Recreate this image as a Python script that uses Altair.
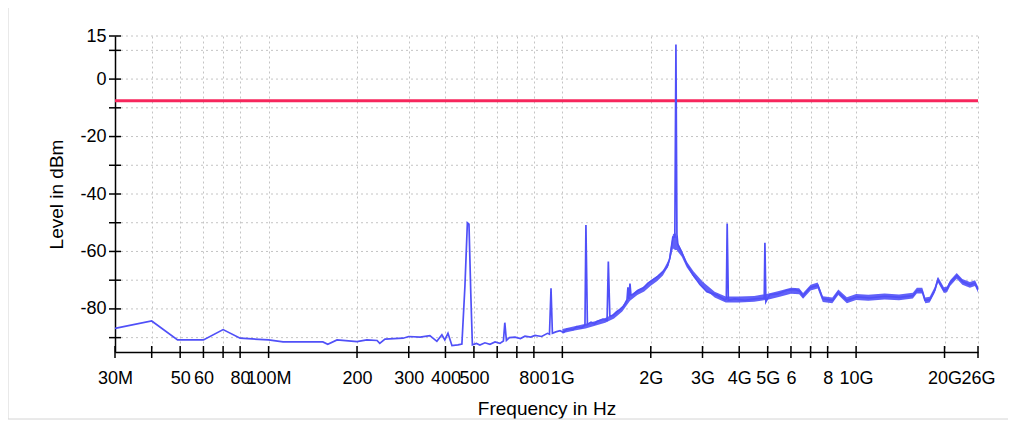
import altair as alt
import pandas as pd

# Spectrum trace (frequency in MHz, level in dBm)
freq_mhz = [30, 40, 49, 60, 70, 80, 100, 112, 153, 159, 171, 200, 216, 234, 239, 249,
            287, 300, 328, 354, 374, 389, 398, 408, 421, 441, 455, 466, 475, 481, 488,
            494, 510, 524, 545, 567, 590, 613, 630, 637, 645, 660, 690, 720, 746, 780,
            807, 850, 890, 904, 915, 925, 950, 982, 1010, 1037, 1087, 1120, 1160, 1194,
            1203, 1217, 1252, 1290, 1311, 1374, 1420, 1434, 1451, 1487, 1530, 1571, 1610,
            1633, 1660, 1672, 1685, 1699, 1712, 1738, 1809, 1881, 1956, 2034, 2115, 2200,
            2268, 2321, 2377, 2415, 2436, 2455, 2473, 2514, 2553, 2655, 2780, 2940, 3105,
            3358, 3575, 3616, 3640, 3674, 3865, 4181, 4522, 4817, 4867, 4893, 4931, 5083,
            5418, 5808, 6190, 6432, 6591, 6960, 7413, 7707, 8337, 8670, 9300, 10062,
            11141, 12535, 14097, 15600, 16107, 16755, 17145, 17830, 18540, 18978, 19896,
            20370, 20850, 22035, 23073, 24384, 25359, 26000]
level_dbm = [-86.8, -84.2, -90.8, -90.8, -87.2, -90.2, -90.8, -91.5, -91.5, -92.3, -90.8,
             -91.4, -90.8, -91.0, -92.0, -90.5, -90.2, -89.6, -89.8, -89.3, -91.3, -89.0,
             -90.8, -88.5, -92.8, -92.5, -92.2, -72.0, -50.0, -50.5, -75.0, -92.5, -92.0,
             -92.6, -91.8, -92.3, -91.5, -92.0, -91.2, -84.8, -91.0, -90.0, -89.8, -90.3,
             -89.5, -89.8, -89.2, -89.6, -88.5, -88.8, -72.8, -88.5, -88.0, -87.6, -88.2,
             -87.0, -87.2, -86.2, -86.6, -85.6, -50.8, -85.4, -84.6, -85.2, -84.4, -83.6,
             -84.0, -63.5, -82.6, -82.2, -81.0, -80.2, -79.2, -78.2, -76.8, -72.5, -76.5,
             -71.2, -75.2, -75.0, -73.6, -72.8, -71.0, -69.8, -68.6, -67.0, -65.5, -62.5,
             -55.0, -55.0, 12.0, -54.0, -57.5, -59.0, -60.5, -64.5, -68.0, -71.5, -74.0,
             -75.2, -76.8, -76.5, -50.3, -77.0, -76.5, -77.0, -76.5, -76.3, -76.2, -57.0,
             -77.5, -75.0, -74.8, -73.5, -73.2, -73.8, -75.5, -72.6, -71.8, -76.5, -77.0,
             -74.2, -77.0, -75.8, -76.2, -75.6, -76.0, -75.4, -73.6, -73.6, -77.0, -76.8,
             -73.5, -69.8, -73.5, -73.2, -71.0, -68.4, -70.6, -71.6, -71.0, -73.3]

# Noise envelope of the trace (MHz, low / high dBm)
band_mhz = [1000, 1100, 1200, 1300, 1400, 1500, 1600, 1700, 1800, 1900, 2000, 2100, 2200,
            2300, 2380, 2420, 2450, 2480, 2550, 2650, 2800, 3000, 3300, 3600, 4000, 4500,
            5000, 5500, 6000, 6400, 6600, 7000, 7400, 7700, 8300, 8700, 9300, 10000, 11000,
            12500, 14000, 15600, 16100, 16800, 17200, 17800, 18500, 19000, 19900, 20400,
            20900, 22000, 23000, 24400, 25400, 26000]
band_lo = [-88.5, -87.5, -86.8, -85.8, -84.8, -83.3, -80.9, -77.2, -75.2, -73.9, -71.9,
           -70.4, -68.4, -65.0, -59.0, -59.5, -59.5, -60.3, -61.8, -65.5, -69.0, -72.5,
           -76.0, -77.8, -77.8, -77.5, -76.8, -75.8, -74.7, -74.9, -76.5, -73.6, -72.9,
           -77.6, -78.0, -75.2, -78.0, -76.9, -77.2, -76.7, -77.0, -76.4, -74.6, -74.6,
           -78.0, -77.8, -74.5, -70.8, -74.5, -74.2, -72.0, -69.5, -71.6, -72.6, -72.0, -74.3]
band_hi = [-87.0, -86.0, -85.2, -84.2, -83.2, -81.7, -79.1, -75.3, -73.3, -72.1, -70.1,
           -68.6, -66.6, -63.0, -54.0, -53.5, -54.5, -57.2, -59.7, -63.5, -67.0, -70.5,
           -74.0, -75.7, -75.7, -75.5, -74.7, -73.7, -72.6, -72.8, -74.5, -71.6, -70.8,
           -75.6, -76.0, -73.2, -75.9, -74.8, -75.1, -74.6, -75.0, -74.4, -72.6, -72.6,
           -76.0, -75.8, -72.5, -68.8, -72.5, -72.2, -70.0, -67.5, -69.6, -70.6, -70.0, -72.2]

limit_dbm = [-7.5]

x_ticks_mhz = [30, 40, 50, 60, 70, 80, 100, 200, 300, 400, 500, 600, 700, 800, 1000,
               2000, 3000, 4000, 5000, 6000, 7000, 8000, 10000, 20000, 26000]
x_tick_labels = ["30M", "", "50", "60", "", "80", "100M", "200", "300", "400", "500", "",
                 "", "800", "1G", "2G", "3G", "4G", "5G", "6", "", "8", "10G", "20G", "26G"]
y_ticks = [15, 10, 0, -10, -20, -30, -40, -50, -60, -70, -80, -90]
y_labelled = [15, 0, -20, -40, -60, -80]

W, H = 863, 316
FONT = "Liberation Sans"
BLUE = "#5050f8"
GRID = "#c4c4c4"

trace = pd.DataFrame({"f": freq_mhz, "lvl": level_dbm})
band = pd.DataFrame({"f": band_mhz, "lo": band_lo, "hi": band_hi})
limit = pd.DataFrame({"lvl": limit_dbm})
xt = pd.DataFrame({"f": x_ticks_mhz})
yt = pd.DataFrame({"lvl": y_ticks})


def label_expr(values, labels):
    parts = [f"datum.value == {v} ? '{l}'" for v, l in zip(values, labels)]
    return " : ".join(parts) + " : ''"


xscale = alt.Scale(type="log", domain=[30, 26000], nice=False)
yscale = alt.Scale(domain=[-95, 15], nice=False, zero=False)

xaxis = alt.Axis(values=x_ticks_mhz, labelExpr=label_expr(x_ticks_mhz, x_tick_labels),
                 title="Frequency in Hz", ticks=False, labelPadding=17,
                 labelOverlap=False, labelFlush=False, labelBound=False,
                 labelFont=FONT, labelFontSize=18, labelColor="black",
                 titleFont=FONT, titleFontSize=19, titleFontWeight="normal",
                 titleColor="black", titlePadding=12,
                 domainColor="black", domainWidth=1.5,
                 grid=True, gridColor=GRID, gridDash=[2, 3], gridWidth=1)
yaxis = alt.Axis(values=y_labelled, labelExpr="'' + datum.value",
                 title="Level in dBm", ticks=False, labelPadding=9,
                 labelOverlap=False, labelFlush=False,
                 labelFont=FONT, labelFontSize=18, labelColor="black",
                 titleFont=FONT, titleFontSize=19, titleFontWeight="normal",
                 titleColor="black", titlePadding=13,
                 domainColor="black", domainWidth=1.5, grid=False)

ygrid = alt.Chart(yt).mark_rule(color=GRID, strokeDash=[2, 3], strokeWidth=1).encode(
    y=alt.Y("lvl:Q", scale=yscale, axis=yaxis)
)

base_axes = alt.Chart(trace).mark_line(opacity=0).encode(
    x=alt.X("f:Q", scale=xscale, axis=xaxis),
    y=alt.Y("lvl:Q", scale=yscale, axis=yaxis),
)

frame = alt.Chart(limit).mark_rect(fill=None, stroke="#d4d4d4", strokeWidth=1).encode(
    x=alt.value(-107), x2=alt.value(895), y=alt.value(-29), y2=alt.value(383)
)

limit_line = alt.Chart(limit).mark_rule(color="#f7265c", strokeWidth=3).encode(
    y=alt.Y("lvl:Q", scale=yscale, axis=yaxis)
)

band_area = alt.Chart(band).mark_area(color=BLUE, opacity=0.9).encode(
    x=alt.X("f:Q", scale=xscale, axis=xaxis),
    y=alt.Y("lo:Q", scale=yscale, axis=yaxis), y2="hi:Q"
)

line = alt.Chart(trace).mark_line(color=BLUE, strokeWidth=1.7).encode(
    x=alt.X("f:Q", scale=xscale, axis=xaxis), y=alt.Y("lvl:Q", scale=yscale, axis=yaxis)
)

xticks = alt.Chart(xt).mark_rule(color="black", strokeWidth=1.5).encode(
    x=alt.X("f:Q", scale=xscale, axis=xaxis), y=alt.value(H - 6), y2=alt.value(H + 6)
)
yticks = alt.Chart(yt).mark_rule(color="black", strokeWidth=1.5).encode(
    y=alt.Y("lvl:Q", scale=yscale, axis=yaxis), x=alt.value(-6), x2=alt.value(6)
)

chart = alt.layer(frame, ygrid, base_axes, limit_line, band_area, line, xticks, yticks).properties(
    width=W, height=H,
    autosize=alt.AutoSizeParams(type="none"),
    padding={"left": 107, "top": 28, "right": 30, "bottom": 72},
    background="white",
).configure_view(strokeWidth=0)

chart.save("out.html", embed_options={"renderer": "svg", "actions": False})
